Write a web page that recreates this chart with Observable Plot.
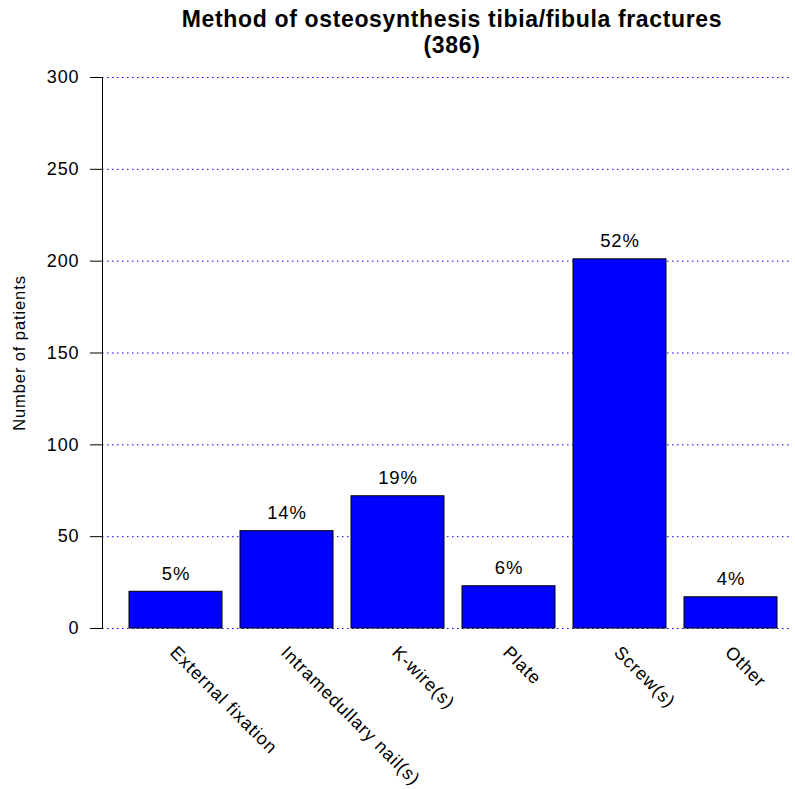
<!DOCTYPE html>
<html>
<head>
<meta charset="utf-8">
<script src="https://cdn.jsdelivr.net/npm/d3@7"></script>
<script src="https://cdn.jsdelivr.net/npm/@observablehq/plot@0.6"></script>
<style>
  html, body { margin: 0; padding: 0; background: #fff; }
  #title {
    width: 795px; box-sizing: border-box; height: 60px;
    padding-left: 109px; padding-top: 6px;
    text-align: center; font-family: "Liberation Sans", Arial, sans-serif;
    font-weight: bold; font-size: 23px; line-height: 26px; color: #000;
    letter-spacing: 0.65px;
  }
</style>
</head>
<body>
<div id="title">Method of osteosynthesis tibia/fibula fractures<br>(386)</div>
<div id="chart"></div>
<script>
const methods = ["External fixation", "Intramedullary nail(s)", "K-wire(s)", "Plate", "Screw(s)", "Other"];
const counts = [20, 53, 72, 23, 201, 17];
const percents = ["5%", "14%", "19%", "6%", "52%", "4%"];
const yTicks = [0, 50, 100, 150, 200, 250, 300];
const yLabel = "Number of patients";

const data = methods.map((m, i) => ({method: m, count: counts[i], pct: percents[i]}));

const chart = Plot.plot({
  width: 795,
  height: 729,
  marginTop: 17,
  marginBottom: 161,
  marginLeft: 102,
  marginRight: 5,
  style: {fontFamily: "Liberation Sans, Arial, sans-serif", fontSize: "18px", color: "#000", background: "#fff", letterSpacing: "0.9px"},
  x: {domain: methods, paddingInner: 0.162, paddingOuter: 0.171, align: 0.684},
  y: {domain: [0, 300]},
  marks: [
    Plot.gridY(yTicks, {stroke: "#0000ff", strokeOpacity: 1, strokeWidth: 1, strokeDasharray: "1.5,3.5"}),
    Plot.barY(data, {x: "method", y: "count", fill: "#0000ff", stroke: "#000", strokeWidth: 1}),
    Plot.text(data, {x: "method", y: "count", text: "pct", lineAnchor: "bottom", dy: -12, fontSize: 18.5}),
    Plot.frame({anchor: "left", stroke: "#000"}),
    Plot.axisY(yTicks, {tickSize: 12, tickPadding: 11, fontSize: 18, label: null, stroke: "#000"}),
    Plot.axisX({tickRotate: 45, tickSize: 0, tickPadding: 21, dx: -3, fontSize: 18, label: null}),
    Plot.text([yLabel], {frameAnchor: "left", textAnchor: "middle", rotate: -90, dx: -83, fontSize: 16.5})
  ]
});
document.getElementById("chart").appendChild(chart);
</script>
</body>
</html>
